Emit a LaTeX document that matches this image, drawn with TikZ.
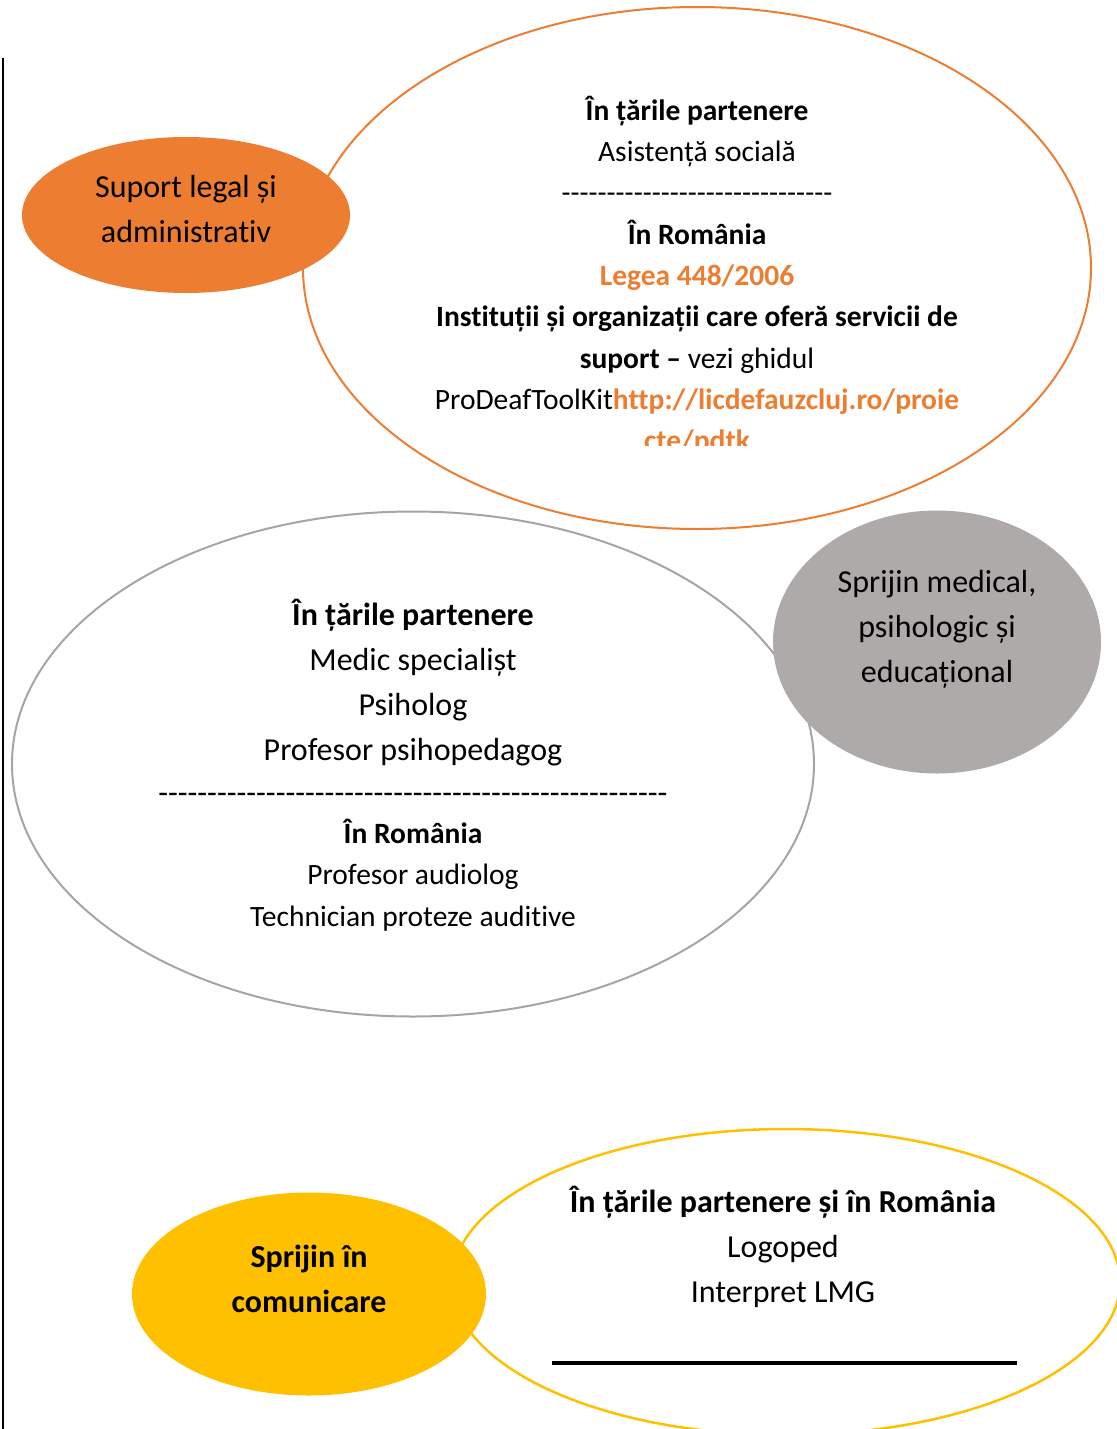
\documentclass[tikz,border=0pt]{standalone}
\usepackage{fontspec}
\setmainfont{Carlito}[Ligatures={TeX,NoCommon}]
\usetikzlibrary{shapes.geometric}
\definecolor{orng}{HTML}{ED7D31}
\definecolor{greyfill}{HTML}{AEAAAA}
\definecolor{greyline}{HTML}{A5A5A5}
\definecolor{yell}{HTML}{FFC000}
\newcommand\dashrow[1]{\foreach \i in {1,...,#1}{-\kern0pt}}
\begin{document}
\begin{tikzpicture}[x=1pt,y=-1pt,
  outl/.style={ellipse, inner sep=0pt, line width=2pt},
  fillb/.style={ellipse, inner sep=0pt, draw=none},
  txt/.style={anchor=base, inner sep=0pt, font=\fontsize{32}{38}\selectfont},
  txtb/.style={txt, font=\fontsize{32}{38}\selectfont\bfseries},
  otxt/.style={anchor=base, inner sep=0pt, font=\fontsize{29.5}{35}\selectfont},
  otxtb/.style={otxt, font=\fontsize{29.5}{35}\selectfont\bfseries}]
\useasboundingbox (0,0) rectangle (1116,1429);
% left rule
\coordinate (lt) at (3,58);
\coordinate (lb) at (3,1429);
\draw[line width=2pt] (lt) -- (lb);
% ellipses
\node[outl, draw=orng, minimum width=788pt, minimum height=522pt] (oo) at (697,268) {};
\node[fillb, fill=orng, minimum width=328pt, minimum height=156pt] (of) at (186,215) {};
\node[outl, draw=greyline, minimum width=802pt, minimum height=505pt] (go) at (413,764) {};
\node[fillb, fill=greyfill, minimum width=328pt, minimum height=263pt] (gf) at (937,642) {};
\node[outl, draw=yell, line width=2.5pt, minimum width=668pt, minimum height=306pt] (yo) at (786,1282) {};
\node[fillb, fill=yell, minimum width=354pt, minimum height=203pt] (yf) at (309,1294) {};
% orange filled text
\node[txt] (of1) at (186,197) {Suport legal și};
\node[txt] (of2) at (186,242) {administrativ};
% orange outline text
\begin{scope}
\clip (300,0) rectangle (1100,445);
\node[otxtb] (o1) at (697,120) {În țările partenere};
\node[otxt] (o2) at (697,161.4) {Asistență socială};
\node[otxt] (o3) at (697,202.7) {\dashrow{30}};
\node[otxtb] (o4) at (697,244) {În România};
\node[otxtb, text=orng] (o5) at (697,285.3) {Legea 448/2006};
\node[otxtb] (o6) at (697,326.6) {Instituții și organizații care oferă servicii de};
\node[otxt] (o7) at (697,368) {\textbf{suport –} vezi ghidul};
\node[otxt] (o8) at (697,409.3) {ProDeafToolKit{\bfseries\color{orng}http://licdefauzcluj.ro/proie}};
\node[otxtb, text=orng] (o9) at (697,450.6) {cte/pdtk};
\end{scope}
% grey filled text
\node[txt] (gf1) at (937,592) {Sprijin medical,};
\node[txt] (gf2) at (937,637) {psihologic și};
\node[txt] (gf3) at (937,682) {educațional};
% grey outline text
\node[txtb] (g1) at (413,625) {În țările partenere};
\node[txt] (g2) at (413,670) {Medic specialișt};
\node[txt] (g3) at (413,715) {Psiholog};
\node[txt] (g4) at (413,760) {Profesor psihopedagog};
\node[txt] (g5) at (413,803) {\dashrow{52}};
\node[otxtb] (g6) at (413,843) {În România};
\node[otxt] (g7) at (413,884) {Profesor audiolog};
\node[otxt] (g8) at (413,926) {Technician proteze auditive};
% yellow filled text
\node[txtb] (yf1) at (309,1267) {Sprijin în};
\node[txtb] (yf2) at (309,1312) {comunicare};
% yellow outline text
\node[txtb] (y1) at (783,1212) {În țările partenere și în România};
\node[txt] (y2) at (783,1257) {Logoped};
\node[txt] (y3) at (783,1302) {Interpret LMG};
\coordinate (ya) at (552,1363);
\coordinate (yb) at (1017,1363);
\draw[line width=4pt] (ya) -- (yb);
\end{tikzpicture}
\end{document}
